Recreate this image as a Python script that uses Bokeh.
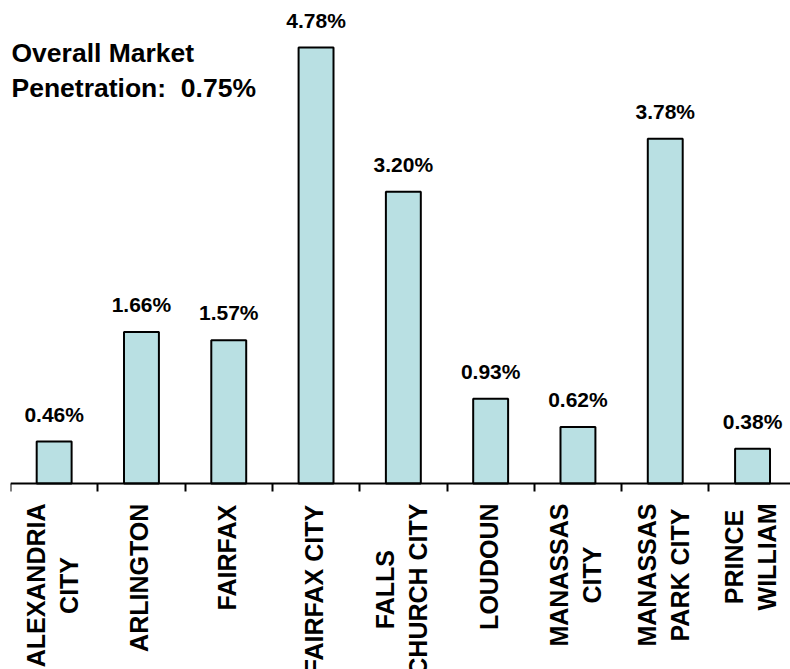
import math
from bokeh.plotting import figure
from bokeh.models import ColumnDataSource, LabelSet, Label, Range1d, FixedTicker
from bokeh.core.properties import value
from bokeh.embed import file_html
from bokeh.resources import INLINE

# ---- data ----
categories = ["ALEXANDRIA\nCITY", "ARLINGTON", "FAIRFAX", "FAIRFAX CITY",
              "FALLS\nCHURCH CITY", "LOUDOUN", "MANASSAS\nCITY",
              "MANASSAS\nPARK CITY", "PRINCE\nWILLIAM"]
values = [0.46, 1.66, 1.57, 4.78, 3.20, 0.93, 0.62, 3.78, 0.38]
overall = 0.75

FONT = "Liberation Sans"
BAR_COLOR = "#B9E0E3"

# Arial/Liberation Sans Bold advance widths (per 1000 em) for label layout
W = {'A': 722, 'B': 722, 'C': 722, 'D': 722, 'E': 667, 'F': 611, 'G': 778, 'H': 722,
     'I': 278, 'J': 556, 'K': 722, 'L': 611, 'M': 833, 'N': 722, 'O': 778, 'P': 667,
     'Q': 778, 'R': 722, 'S': 667, 'T': 611, 'U': 722, 'V': 667, 'W': 944, 'X': 667,
     'Y': 667, 'Z': 611, ' ': 278}


def text_w(s, size):
    return sum(W.get(c, 667) for c in s) / 1000.0 * size


n = len(categories)
PX_PER_UNIT = 91.2
p = figure(width=790, height=669, output_backend="svg", toolbar_location=None,
           x_range=Range1d(0, 780 / 87.3),
           y_range=Range1d(-(669 - 483) / PX_PER_UNIT, 483 / PX_PER_UNIT),
           min_border_left=10, min_border_right=0, min_border_top=0,
           min_border_bottom=0, y_axis_location=None)
p.grid.visible = False
p.outline_line_color = None

xs = [i + 0.5 for i in range(n)]
src = ColumnDataSource(dict(x=xs, top=values, lab=[f"{v:.2f}%" for v in values]))
p.vbar(x="x", top="top", bottom=0, width=0.4, source=src,
       fill_color=BAR_COLOR, line_color="black", line_width=2)

# x axis drawn at y = 0, ticks at the category boundaries
ax = p.xaxis[0]
ax.fixed_location = 0
ax.ticker = FixedTicker(ticks=[], minor_ticks=list(range(n + 1)))
ax.axis_line_width = 2
ax.axis_line_color = "black"
ax.major_tick_line_color = None
ax.minor_tick_line_width = 2
ax.minor_tick_line_color = "black"
ax.minor_tick_out = 8
ax.minor_tick_in = 0

# value labels above bars
p.add_layout(LabelSet(x="x", y="top", text="lab", source=src,
                      text_align="center", text_baseline="alphabetic", y_offset=20,
                      text_font=value(FONT), text_font_size="21px",
                      text_font_style="bold", text_color="black"))

# rotated category labels below the axis
CAT_SIZE = 25
lx, ly, lxo, lyo, lt = [], [], [], [], []
for i, cat in enumerate(categories):
    lines = cat.split("\n")
    k = len(lines)
    maxw = max(text_w(l, CAT_SIZE) for l in lines)
    for j, line in enumerate(lines):
        lx.append(i + 0.5)
        ly.append(0)
        lxo.append(-2 + (j - (k - 1) / 2.0) * 33)
        lyo.append(-(20 + maxw / 2.0))
        lt.append(line)
csrc = ColumnDataSource(dict(x=lx, y=ly, xo=lxo, yo=lyo, t=lt))
p.add_layout(LabelSet(x="x", y="y", text="t", source=csrc, x_offset="xo", y_offset="yo",
                      angle=math.pi / 2, text_align="center", text_baseline="middle",
                      text_font=value(FONT), text_font_size=f"{CAT_SIZE}px",
                      text_font_style="bold", text_color="black"))

# overall market penetration note
p.add_layout(Label(x=0.0115, y=4.715, text="Overall Market", text_font=FONT,
                   text_font_size="26.5px", text_font_style="bold",
                   text_align="left", text_baseline="alphabetic", text_color="black"))
p.add_layout(Label(x=0.0115, y=4.342, text=f"Penetration:\u00a0 {overall:.2f}%", text_font=FONT,
                   text_font_size="26.5px", text_font_style="bold",
                   text_align="left", text_baseline="alphabetic", text_color="black"))

open("out.html", "w").write(file_html(p, INLINE))
